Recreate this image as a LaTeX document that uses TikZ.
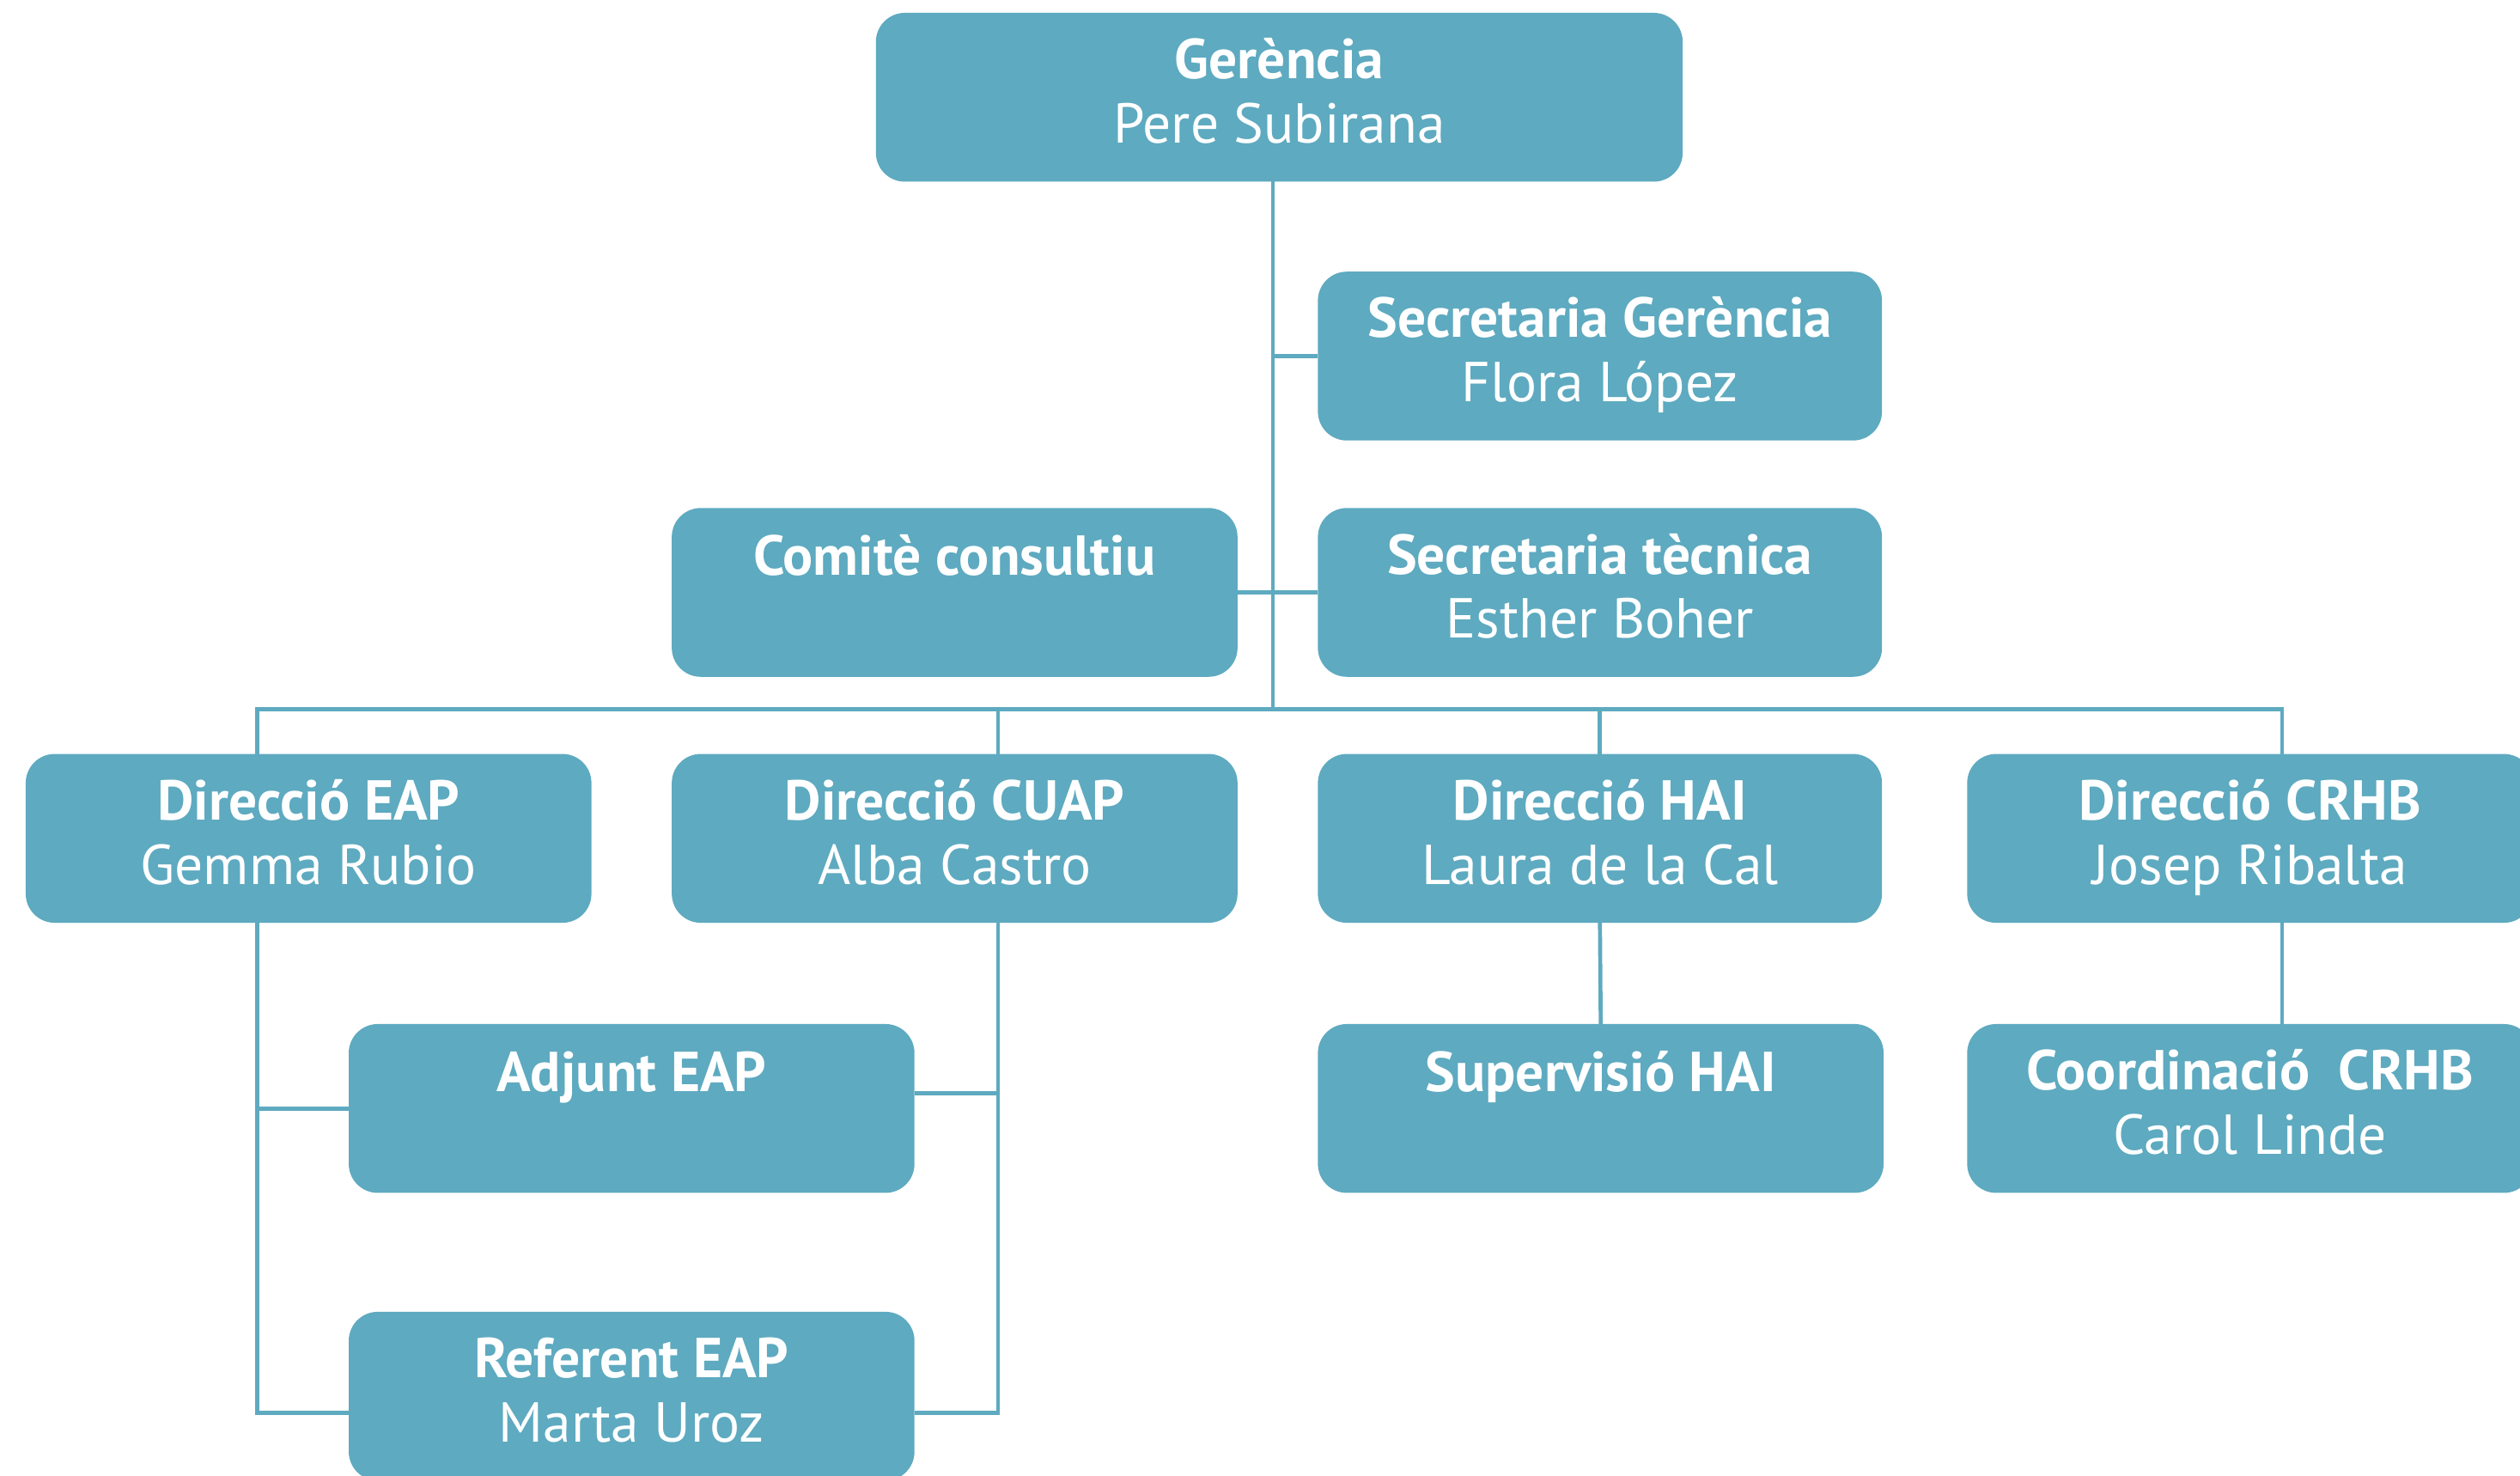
\documentclass[tikz,border=0pt]{standalone}
\usepackage{fontspec}
\setmainfont{PT Sans}
\definecolor{boxc}{HTML}{5EAAC0}
\tikzset{
  orgbox/.style={fill=boxc, draw=none, rounded corners=18pt, minimum height=105pt, inner sep=0pt, outer sep=0pt, anchor=north west},
  ttl/.style={anchor=base, text=white, inner sep=0pt, font=\bfseries\fontsize{35}{35}\selectfont},
  sub/.style={anchor=base, text=white, inner sep=0pt, font=\fontsize{35}{35}\selectfont},
  conn/.style={draw=boxc, line width=2.5pt}
}
\newcommand\boxtwo[6]{%
  \node[orgbox, minimum width=#4pt] (#1) at (#2,#3) {};
  \node[ttl] (#1-t) at ([yshift=-41pt]#1.north) {#5};
  \node[sub] (#1-s) at ([yshift=-81pt]#1.north) {#6};
}
\newcommand\boxone[5]{%
  \node[orgbox, minimum width=#4pt] (#1) at (#2,#3) {};
  \node[ttl] (#1-t) at ([yshift=-42pt]#1.north) {#5};
}
\begin{document}
\begin{tikzpicture}[x=1pt,y=-1pt]
\useasboundingbox (0,0) rectangle (1568,918);
% boxes
\boxtwo{g}{545}{8}{502}{Gerència}{Pere Subirana}
\boxtwo{sg}{820}{169}{351}{Secretaria Gerència}{Flora López}
\boxone{cc}{418}{316}{352}{Comitè consultiu}
\boxtwo{st}{820}{316}{351}{Secretaria tècnica}{Esther Boher}
\boxtwo{eap}{16}{469}{352}{Direcció EAP}{Gemma Rubio}
\boxtwo{cuap}{418}{469}{352}{Direcció CUAP}{Alba Castro}
\boxtwo{hai}{820}{469}{351}{Direcció HAI}{Laura de la Cal}
\boxtwo{crhb}{1224}{469}{352}{Direcció CRHB}{Josep Ribalta}
\boxone{adj}{217}{637}{352}{Adjunt EAP}
\boxtwo{ref}{217}{816}{352}{Referent EAP}{Marta Uroz}
\boxone{sup}{820}{637}{352}{Supervisió HAI}
\boxtwo{coo}{1224}{637}{352}{Coordinació\ \ CRHB}{Carol Linde}
% connector helper points
\coordinate (trunk) at (792,441);
\coordinate (busL) at (160,441);
\coordinate (busR) at (1420,441);
\coordinate (cuapx) at (621,441);
\coordinate (eapb) at (160,879);
\coordinate (cuapb) at (621,879);
\coordinate (adjR) at (569,680);
% connectors
\draw[conn] (g.south -| trunk) -- (trunk);
\draw[conn] (sg.west) -- (sg.west -| trunk);
\draw[conn] (cc.east) -- (st.west);
\draw[conn, line cap=rect] (busL) -- (busR);
\draw[conn] (busL) -- (busL |- eap.north);
\draw[conn] (cuapx) -- (cuapx |- cuap.north);
\draw[conn] (hai.north |- trunk) -- (hai.north);
\draw[conn] (busR) -- (busR |- crhb.north);
\draw[conn, line join=miter] (busL |- eap.south) -- (eapb) -- (ref.west |- eapb);
\draw[conn] (adj.west) -- (adj.west -| eapb);
\draw[conn, line join=miter] (cuapx |- cuap.south) -- (cuapb) -- (ref.east |- cuapb);
\draw[conn] (adjR) -- (adjR -| cuapb);
\draw[conn] (hai.south) -- (sup.north);
\draw[conn] (busR |- crhb.south) -- (busR |- coo.north);
\end{tikzpicture}
\end{document}
